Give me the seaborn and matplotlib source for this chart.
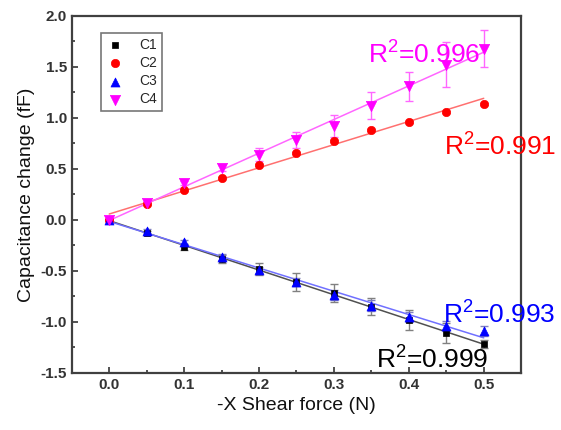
import matplotlib
matplotlib.use("Agg")
import matplotlib.pyplot as plt
import pandas as pd
import numpy as np
import seaborn as sns
from matplotlib.ticker import MultipleLocator

# shear force (N)
force = [0.0, 0.05, 0.10, 0.15, 0.20, 0.25, 0.30, 0.35, 0.40, 0.45, 0.50]

# capacitance change (fF) and error bars
c1 = [0.0, -0.13, -0.27, -0.38, -0.48, -0.61, -0.72, -0.85, -0.98, -1.11, -1.22]
c1_err = [0.0, 0.02, 0.03, 0.04, 0.06, 0.09, 0.09, 0.08, 0.10, 0.10, 0.04]
c2 = [0.0, 0.16, 0.29, 0.41, 0.54, 0.66, 0.77, 0.88, 0.96, 1.06, 1.14]
c2_err = [0.0, 0.01, 0.01, 0.01, 0.01, 0.01, 0.01, 0.01, 0.01, 0.01, 0.01]
c3 = [0.0, -0.11, -0.22, -0.365, -0.49, -0.61, -0.735, -0.84, -0.95, -1.04, -1.09]
c3_err = [0.0, 0.02, 0.02, 0.03, 0.03, 0.04, 0.05, 0.05, 0.05, 0.05, 0.05]
c4 = [0.0, 0.17, 0.36, 0.51, 0.64, 0.78, 0.92, 1.12, 1.31, 1.52, 1.68]
c4_err = [0.0, 0.01, 0.02, 0.03, 0.06, 0.08, 0.11, 0.13, 0.14, 0.22, 0.18]

series_names = ["C1", "C2", "C3", "C4"]
r2_labels = ["R$^{2}$=0.999", "R$^{2}$=0.991", "R$^{2}$=0.993", "R$^{2}$=0.996"]

sns.set_style("ticks")
plt.rcParams['font.family'] = ['Liberation Sans', 'DejaVu Sans']
plt.rcParams['axes.unicode_minus'] = False
plt.rcParams['mathtext.fontset'] = 'custom'
plt.rcParams['mathtext.rm'] = 'Liberation Sans'
plt.rcParams['mathtext.it'] = 'Liberation Sans'

fig = plt.figure(figsize=(5.61, 4.30), dpi=100)
ax = fig.add_axes([0.128, 0.133, 0.801, 0.830])

values = [c1, c2, c3, c4]
errors = [c1_err, c2_err, c3_err, c4_err]
colors = ["black", "red", "blue", "magenta"]
fit_colors = ["#505050", "#ff7070", "#7070ff", "#ff66ff"]
err_colors = ["#808080", "#ff8080", "#8080c0", "#ff66ff"]
markers = ["s", "o", "^", "v"]
sizes = [22, 36, 42, 55]

for name, y, e, col, fcol, ecol, m, s in zip(series_names, values, errors, colors,
                                             fit_colors, err_colors, markers, sizes):
    df = pd.DataFrame({"x": force, "y": y})
    sns.regplot(data=df, x="x", y="y", ax=ax, scatter=False, ci=None,
                line_kws={"color": fcol, "lw": 1.1, "zorder": 2})
    ax.errorbar(force, y, yerr=e, fmt="none", ecolor=ecol, elinewidth=1,
                capsize=3, capthick=1, zorder=3)
    sns.scatterplot(data=df, x="x", y="y", ax=ax, marker=m, color=col, s=s,
                    edgecolor=col, linewidth=0.5, label=name, zorder=4)

# R^2 annotations
r2_pos = [(0.356, -1.46), (0.447, 0.627), (0.445, -1.013), (0.345, 1.536)]
for txt, (tx, ty), col in zip(r2_labels, r2_pos, colors):
    ax.text(tx, ty, txt, color=col, fontsize=19, ha="left", va="baseline",
            zorder=6, clip_on=False)

ax.set_xlim(-0.05, 0.55)
ax.set_ylim(-1.5, 2.0)
ax.xaxis.set_major_locator(MultipleLocator(0.1))
ax.xaxis.set_minor_locator(MultipleLocator(0.05))
ax.yaxis.set_major_locator(MultipleLocator(0.5))
ax.yaxis.set_minor_locator(MultipleLocator(0.25))
ax.tick_params(which="both", direction="in", color="#333333", width=1.2)
ax.tick_params(which="major", length=4.5, labelsize=11, labelcolor="#333333")
ax.tick_params(which="minor", length=2.5)
for lab in ax.get_xticklabels() + ax.get_yticklabels():
    lab.set_fontweight("bold")

for sp in ax.spines.values():
    sp.set_color("#404040")
    sp.set_linewidth(1.6)

ax.set_xlabel("-X Shear force (N)", fontsize=14, color="#111111")
ax.set_ylabel("Capacitance change (fF)", fontsize=14, color="#111111")

leg = ax.legend(loc="upper left", bbox_to_anchor=(0.066, 0.952), borderaxespad=0,
                fontsize=10, frameon=True, fancybox=False, handletextpad=1.2,
                borderpad=0.35, labelspacing=0.3, handlelength=1.2)
leg.get_frame().set_edgecolor("#555555")
leg.get_frame().set_linewidth(1.2)

fig.savefig("out.png", dpi=100)
